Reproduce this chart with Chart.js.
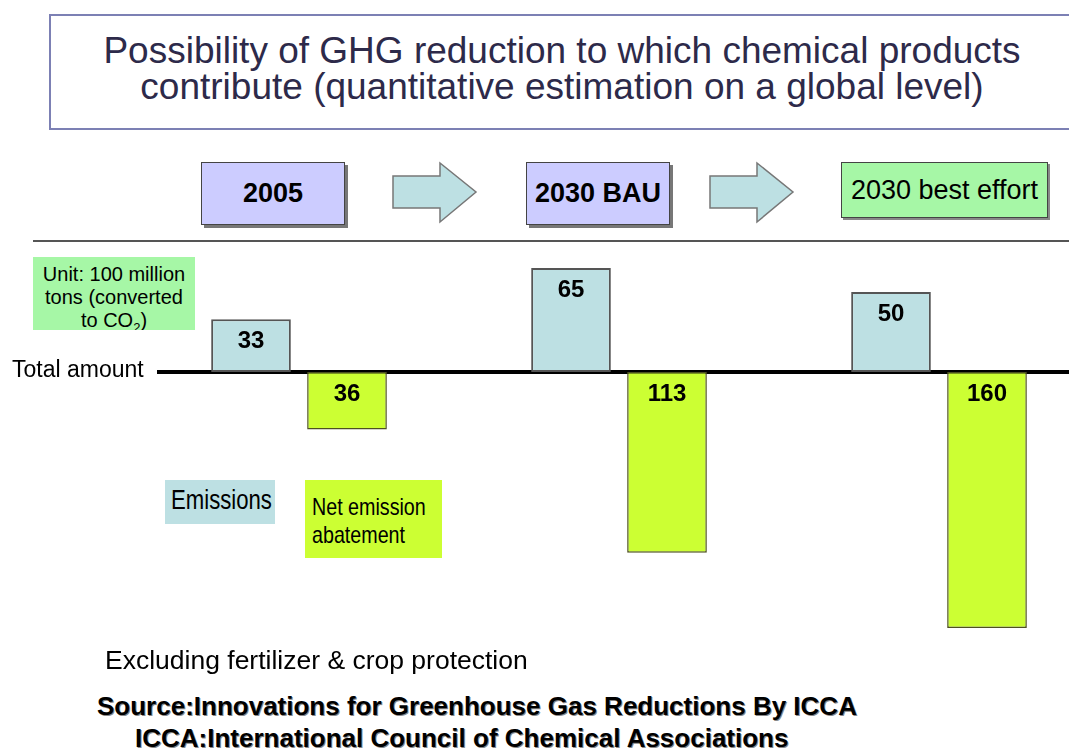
<!DOCTYPE html>
<html>
<head>
<meta charset="utf-8">
<title>GHG reduction by chemical products</title>
<script src="https://cdn.jsdelivr.net/npm/chart.js@4.4.0/dist/chart.umd.min.js"></script>
<style>
  body { margin: 0; width: 1069px; height: 749px; overflow: hidden; background: #fff;
         font-family: "Liberation Sans", Arial, sans-serif; position: relative; color: #000; }
  .abs { position: absolute; }
  #titleBox { left: 49px; top: 14px; width: 1040px; height: 112px; border: 2px solid #7c80b4; }
  #title { left: 0; top: 33px; width: 1124px; text-align: center; font-size: 37px; line-height: 36px; color: #2d2a4a; }
  .step { top: 162px; height: 61px; background: #ccccff; border: 1px solid #444; box-shadow: 3px 3px 0 #777;
          font-weight: bold; font-size: 27px; line-height: 61px; text-align: center; }
  #best { left: 841px; top: 162px; width: 205px; height: 54px; background: #a6f7a6; border: 1px solid #444;
          box-shadow: 2px 2px 0 #888; font-size: 27px; line-height: 54px; text-align: center; }
  #rule { left: 33px; top: 240px; width: 1036px; height: 2px; background: #555; }
  #unit { left: 33px; top: 257px; width: 162px; height: 73px; background: #a6f7a6; overflow: hidden;
          font-size: 20px; line-height: 23px; text-align: center; padding-top: 6px; box-sizing: border-box; }
  .narrow { display: inline-block; transform: scaleX(0.82); transform-origin: 0 0; white-space: nowrap; }
  #legEm { left: 165px; top: 480px; width: 110px; height: 44px; background: #bde0e3;
           font-size: 27px; line-height: 40px; padding-left: 6px; box-sizing: border-box; }
  #legAb { left: 305px; top: 480px; width: 137px; height: 78px; background: #ccff33;
           font-size: 24px; line-height: 28px; padding: 13px 0 0 7px; box-sizing: border-box; }
  #note { left: 105px; top: 645px; font-size: 26.5px; line-height: 30px; }
  .src { font-weight: bold; font-size: 26px; line-height: 30px; text-shadow: 1px 1px 0 #888; }
  #chartWrap { left: 0; top: 250px; width: 1069px; height: 420px; }
</style>
</head>
<body>
<div id="titleBox" class="abs"></div>
<div id="title" class="abs">Possibility of GHG reduction to which chemical products<br>contribute (quantitative estimation on a global level)</div>

<div class="abs step" style="left:201px;width:142px;">2005</div>
<svg class="abs" style="left:390px;top:160px;" width="92" height="66">
  <polygon points="3,16 50,16 50,3 86,32 50,62 50,48 3,48" fill="#bde0e3" stroke="#777" stroke-width="1.5"/>
</svg>
<div class="abs step" style="left:526px;width:142px;">2030 BAU</div>
<svg class="abs" style="left:707px;top:160px;" width="92" height="66">
  <polygon points="3,16 50,16 50,3 86,32 50,62 50,48 3,48" fill="#bde0e3" stroke="#777" stroke-width="1.5"/>
</svg>
<div id="best" class="abs">2030 best effort</div>
<div id="rule" class="abs"></div>

<div id="chartWrap" class="abs"><canvas id="ghgChart" width="1069" height="420"></canvas></div>

<div id="unit" class="abs">Unit: 100 million<br>tons (converted<br>to CO<sub style="font-size:13px;">2</sub>)</div>
<div id="legEm" class="abs"><span class="narrow">Emissions</span></div>
<div id="legAb" class="abs"><span class="narrow">Net emission<br>abatement</span></div>

<div id="note" class="abs">Excluding fertilizer &amp; crop protection</div>
<div class="abs src" style="left:97px;top:691px;">Source:Innovations for Greenhouse Gas Reductions By ICCA</div>
<div class="abs src" style="left:135px;top:723px;">ICCA:International Council of Chemical Associations</div>

<script>
// 100 million tons CO2
const categories = ['2005', '2030 BAU', '2030 best effort'];
const emissions = [33, 65, 50];
const abatement = [36, 113, 160];

// abatement hangs below the "total amount" line
const emissionPoints = emissions.map((v, i) => ({ x: i, y: v }));
const abatementPoints = abatement.map((v, i) => ({ x: i, y: -v }));

const baselinePlugin = {
    id: 'baseline',
    beforeDatasetsDraw(chart) {
        const ctx = chart.ctx;
        const y0 = chart.scales.y.getPixelForValue(0);
        ctx.save();
        ctx.strokeStyle = '#000';
        ctx.lineWidth = 4;
        ctx.beginPath();
        ctx.moveTo(157, y0);
        ctx.lineTo(chart.width, y0);
        ctx.stroke();
        ctx.fillStyle = '#000';
        ctx.font = '23px "Liberation Sans", Arial, sans-serif';
        ctx.textBaseline = 'middle';
        ctx.fillText('Total amount', 12, y0 - 1);
        ctx.restore();
    }
};

const valueLabels = {
    id: 'valueLabels',
    afterDatasetsDraw(chart) {
        const ctx = chart.ctx;
        ctx.save();
        ctx.fillStyle = '#000';
        ctx.font = 'bold 24px "Liberation Sans", Arial, sans-serif';
        ctx.textAlign = 'center';
        ctx.textBaseline = 'middle';
        chart.data.datasets.forEach((ds, di) => {
            chart.getDatasetMeta(di).data.forEach((bar, i) => {
                const top = Math.min(bar.y, bar.base);
                ctx.fillText(String(Math.abs(ds.data[i].y)), bar.x, top + 22);
            });
        });
        ctx.restore();
    }
};

new Chart(document.getElementById('ghgChart'), {
    type: 'bar',
    data: {
        datasets: [
            {
                label: 'Emissions',
                data: emissionPoints,
                backgroundColor: '#bde0e3',
                borderColor: '#555',
                borderWidth: 2,
                borderSkipped: false,
                barPercentage: 0.83,
                categoryPercentage: 0.6
            },
            {
                label: 'Net emission abatement',
                data: abatementPoints,
                backgroundColor: '#ccff33',
                borderColor: '#4d5020',
                borderWidth: 1.5,
                borderSkipped: false,
                barPercentage: 0.83,
                categoryPercentage: 0.6
            }
        ]
    },
    options: {
        responsive: false,
        animation: false,
        events: [],
        layout: { padding: { left: 171, right: 2, top: 10, bottom: 10 } },
        plugins: {
            legend: { display: false },
            tooltip: { enabled: false }
        },
        scales: {
            x: {
                type: 'linear',
                display: false,
                offset: false,
                min: -0.4,
                max: categories.length - 0.6,
                // one tick per category so the bar width is taken from the category spacing
                ticks: { stepSize: 1, includeBounds: false }
            },
            y: {
                display: false,
                min: -180,
                max: 70
            }
        }
    },
    plugins: [baselinePlugin, valueLabels]
});
</script>
</body>
</html>
